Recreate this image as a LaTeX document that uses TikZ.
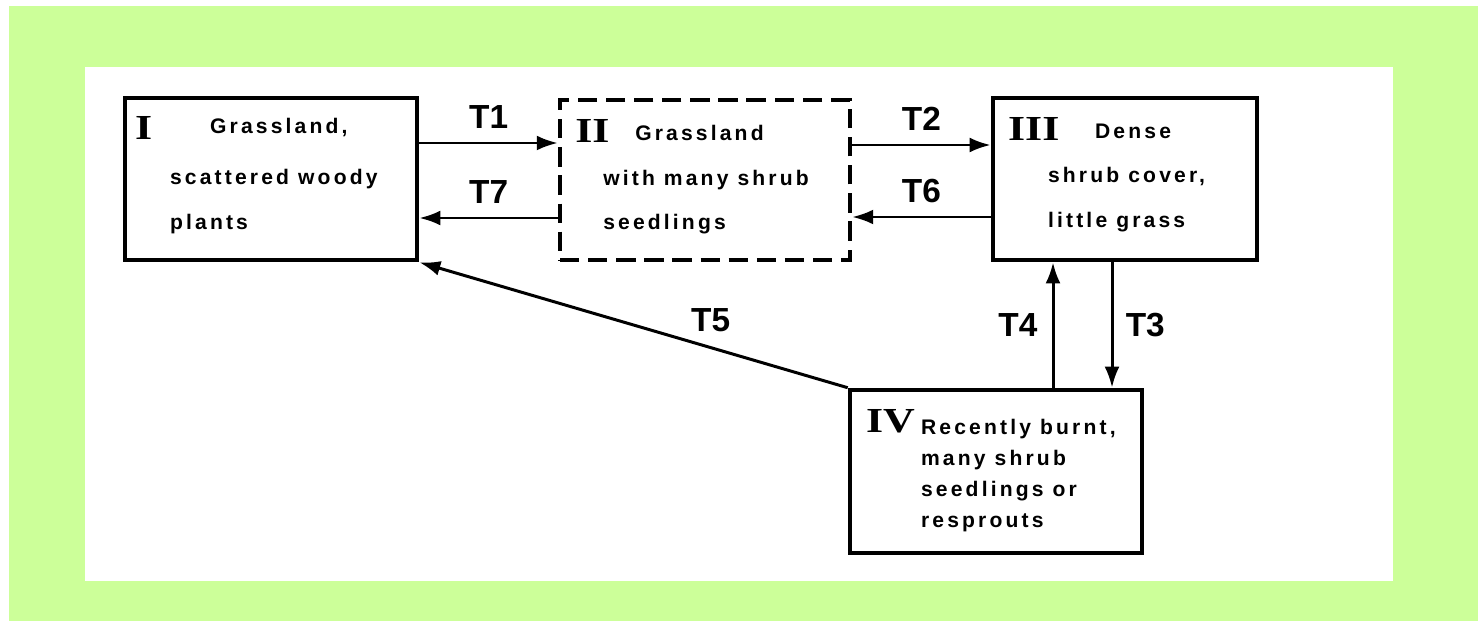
\documentclass[tikz,border=0pt]{standalone}
\usepackage{fontspec}
\usepackage{graphicx}
\setmainfont{Liberation Sans}
\newfontfamily\numfont{Liberation Serif}
\usetikzlibrary{arrows.meta, positioning, calc}
\definecolor{bggreen}{HTML}{CCFF99}
\newcommand{\rnum}[1]{\scalebox{1.25}[1]{#1}}

\begin{document}
\begin{tikzpicture}[
  state/.style={draw=black, fill=white, line width=2.6pt, minimum width=5.84cm, minimum height=3.24cm, inner sep=0pt},
  seedstate/.style={state, line width=2.4pt, dash pattern=on 11pt off 5pt},
  num/.style={anchor=base west, inner sep=0pt, font=\numfont\bfseries\fontsize{20}{20}\selectfont},
  txt/.style={anchor=base west, inner sep=0pt, align=left, font=\fontsize{12}{25.5}\selectfont\bfseries\addfontfeature{LetterSpace=15}},
  txtsmall/.style={txt, font=\fontsize{12}{17.6}\selectfont\bfseries\addfontfeature{LetterSpace=15}},
  tlabel/.style={inner sep=0pt, font=\fontsize{19}{19}\selectfont\bfseries},
  arr/.style={-{Latex[length=12pt, width=8.5pt]}, line width=1.7pt},
]

\useasboundingbox (0,0) rectangle (29.56,-12.42);
\fill[bggreen] (0.18,-0.12) rectangle (29.56,-12.42);
\fill[white] (1.70,-1.34) rectangle (27.86,-11.62);

% States
\node[state] (I) at (5.42,-3.58) {};
\node[seedstate, minimum width=5.80cm, minimum height=3.20cm] (II) at (14.10,-3.60) {};
\node[state, minimum width=5.28cm] (III) at (22.50,-3.58) {};
\node[state, minimum height=3.26cm] (IV) at (19.92,-9.43) {};

\node[num] (I-num) at ([shift={(0.24,-0.88)}]I.north west) {\rnum{I}};
\node[num] (II-num) at ([shift={(0.34,-0.90)}]II.north west) {\rnum{II}};
\node[num] (III-num) at ([shift={(0.34,-0.90)}]III.north west) {\rnum{III}};
\node[num] (IV-num) at ([shift={(0.36,-0.90)}]IV.north west) {\rnum{IV}};

% last line sits on the given point
\node[txt] (I-txt) at ([shift={(0.94,-2.68)}]I.north west) {\hspace*{0.8cm}Grassland,\\[4pt]scattered woody\\plants};
\node[txt] (II-txt) at ([shift={(0.90,-2.64)}]II.north west) {\hspace*{0.64cm}Grassland\\with many shrub\\seedlings};
\node[txt] (III-txt) at ([shift={(1.14,-2.64)}]III.north west) {\hspace*{0.94cm}Dense\\shrub cover,\\little grass};
\node[txtsmall] (IV-txt) at ([shift={(1.46,-2.80)}]IV.north west) {Recently burnt,\\many shrub\\seedlings or\\resprouts};

% Transitions
\draw[arr] ([yshift=0.72cm]I.east) -- ([yshift=0.72cm]I.east -| II.west) node[tlabel, midway, above=7.5pt] (t1) {T1};
\draw[arr] ([yshift=-0.76cm]II.west) -- ([yshift=-0.76cm]II.west -| I.east) node[tlabel, midway, above=7.5pt] (t7) {T7};
\draw[arr] ([yshift=0.68cm]III.west -| II.east) -- ([yshift=0.68cm]III.west) node[tlabel, midway, above=7.5pt] (t2) {T2};
\draw[arr] ([yshift=-0.76cm]III.west) -- ([yshift=-0.76cm]III.west -| II.east) node[tlabel, midway, above=7pt] (t6) {T6};
\draw[arr] ([xshift=-1.44cm]III.south |- IV.north) -- ([xshift=-1.44cm]III.south) node[tlabel, midway, left=8pt] (t4) {T4};
\draw[arr] ([xshift=-0.26cm]III.south) -- ([xshift=-0.26cm]III.south |- IV.north) node[tlabel, midway, right=7pt] (t3) {T3};
\draw[arr] (IV.north west) -- (I.south east) node[tlabel, pos=0.32, above=8pt] (t5) {T5};

\end{tikzpicture}
\end{document}
